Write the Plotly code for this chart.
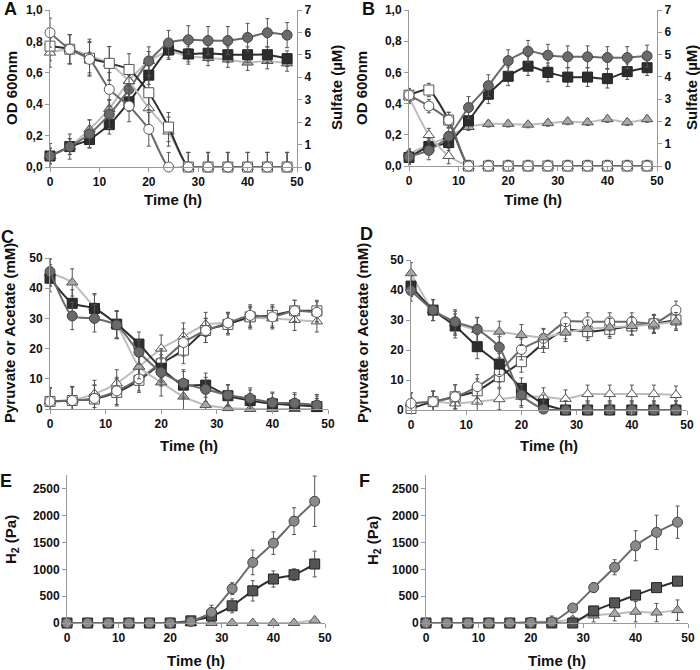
import plotly.graph_objects as go

t = [0, 4, 8, 12, 16, 20, 24, 28, 32, 36, 40, 44, 48]

# Panel A: OD600 (filled) and sulfate (open)
A_od_circle = [0.07, 0.13, 0.21, 0.335, 0.495, 0.675, 0.79, 0.81, 0.805, 0.805, 0.825, 0.855, 0.84]
A_od_square = [0.07, 0.13, 0.175, 0.27, 0.415, 0.585, 0.745, 0.72, 0.725, 0.715, 0.715, 0.715, 0.69]
A_od_triangle = [0.07, 0.13, 0.24, 0.37, 0.55, 0.675, 0.735, 0.705, 0.695, 0.685, 0.665, 0.675, 0.66]
A_od_circle_err = [0.08, 0.08, 0.09, 0.09, 0.09, 0.09, 0.08, 0.09, 0.09, 0.09, 0.09, 0.09, 0.08]
A_od_square_err = [0.05, 0.05, 0.05, 0.06, 0.06, 0.06, 0.05, 0.05, 0.05, 0.05, 0.05, 0.05, 0.05]
A_od_triangle_err = [0.05, 0.05, 0.06, 0.06, 0.06, 0.06, 0.05, 0.05, 0.05, 0.05, 0.05, 0.05, 0.05]
A_su_circle = [5.99, 5.25, 4.8, 3.46, 2.72, 1.68, 0.0, 0, 0, 0, 0, 0, 0]
A_su_square = [5.39, 5.25, 4.85, 4.62, 4.35, 3.31, 1.78, 0, 0, 0, 0, 0, 0]
A_su_triangle = [5.1, 5.25, 4.95, 4.62, 3.83, 2.62, 1.58, 0, 0, 0, 0, 0, 0]
A_su_err = [0.65, 0.65, 0.75, 0.75, 0.7, 0.75, 0.65, 0.65, 0.65, 0.65, 0.65, 0.65, 0.65]

# Panel B
B_od_circle = [0.06, 0.10, 0.19, 0.375, 0.515, 0.675, 0.735, 0.71, 0.70, 0.70, 0.695, 0.695, 0.705]
B_od_square = [0.055, 0.125, 0.15, 0.29, 0.46, 0.575, 0.64, 0.60, 0.57, 0.57, 0.56, 0.605, 0.63]
B_od_triangle = [0.08, 0.135, 0.19, 0.25, 0.27, 0.27, 0.265, 0.275, 0.285, 0.28, 0.30, 0.28, 0.30]
B_od_circle_err = [0.05, 0.06, 0.06, 0.07, 0.07, 0.07, 0.07, 0.07, 0.07, 0.07, 0.07, 0.07, 0.07]
B_od_square_err = [0.04, 0.05, 0.05, 0.06, 0.06, 0.06, 0.06, 0.06, 0.06, 0.06, 0.06, 0.05, 0.05]
B_od_triangle_err = [0.03, 0.03, 0.03, 0.02, 0.02, 0.02, 0.02, 0.02, 0.02, 0.02, 0.02, 0.02, 0.02]
B_su_circle = [3.18, 2.69, 2.06, 0, 0, 0, 0, 0, 0, 0, 0, 0, 0]
B_su_square = [3.18, 3.41, 2.06, 0, 0, 0, 0, 0, 0, 0, 0, 0, 0]
B_su_triangle = [3.1, 1.39, 0.45, 0, 0, 0, 0, 0, 0, 0, 0, 0, 0]
B_su_err = [0.3, 0.3, 0.35, 0.25, 0.25, 0.25, 0.25, 0.25, 0.25, 0.25, 0.25, 0.25, 0.25]

# Panel C: pyruvate (filled) and acetate (open), mM
C_pyr_circle = [45.5, 30.8, 30.0, 27.8, 18.8, 12.1, 8.5, 6.5, 4.6, 3.5, 2.1, 1.9, 1.3]
C_pyr_square = [43.3, 35.0, 33.3, 28.1, 21.5, 13.5, 7.9, 7.9, 4.4, 2.8, 1.7, 1.3, 0.8]
C_pyr_triangle = [45.1, 41.9, 33.7, 27.8, 14.0, 8.8, 4.1, 1.3, 0.3, 0, 0, 0, 0]
C_ace_circle = [2.5, 2.8, 3.5, 6.0, 10.0, 15.5, 22.0, 26.0, 28.5, 31.0, 30.5, 32.5, 32.0]
C_ace_square = [2.5, 2.8, 3.3, 5.5, 9.5, 15.0, 19.5, 26.0, 28.0, 30.5, 31.0, 32.5, 32.5]
C_ace_triangle = [2.5, 3.0, 5.0, 8.5, 14.0, 20.0, 24.0, 28.0, 28.5, 30.0, 30.0, 29.5, 29.0]
C_err = [4.5, 4.5, 4.5, 4.5, 4.0, 4.5, 4.5, 4.0, 3.5, 3.5, 3.5, 3.5, 3.5]

# Panel D
D_pyr_circle = [39.8, 33.3, 29.4, 26.9, 20.9, 5.0, 0.3, 0, 0, 0, 0, 0, 0]
D_pyr_square = [41.3, 33.3, 28.0, 21.1, 15.3, 7.2, 2.0, 0, 0, 0, 0, 0, 0]
D_pyr_triangle = [45.6, 33.3, 28.9, 26.7, 26.1, 25.0, 24.2, 25.8, 27.0, 27.5, 28.0, 28.5, 29.5]
D_ace_circle = [2.2, 2.8, 4.4, 7.8, 12.8, 20.2, 23.9, 29.4, 29.4, 29.4, 29.4, 28.9, 33.3]
D_ace_square = [0.5, 2.8, 4.4, 6.4, 11.1, 16.1, 22.2, 26.7, 26.1, 26.9, 28.0, 28.7, 30.0]
D_ace_triangle = [2.2, 2.8, 2.2, 2.8, 3.6, 4.4, 4.4, 3.7, 5.3, 5.3, 5.3, 5.3, 5.0]
D_err = [3.5, 3.5, 4.0, 4.0, 3.5, 3.5, 3.0, 3.0, 3.0, 3.0, 3.0, 3.0, 3.0]

# Panel E: H2 (Pa)
E_circle = [0, 0, 0, 0, 0, 0, 30, 200, 640, 1130, 1490, 1900, 2270]
E_square = [0, 0, 0, 0, 0, 0, 40, 130, 320, 600, 820, 900, 1100]
E_triangle = [0, 0, 0, 0, 0, 0, 0, 0, 0, 0, 0, 0, 50]
E_circle_err = [0, 0, 0, 0, 0, 0, 0, 130, 110, 230, 210, 250, 470]
E_square_err = [0, 0, 0, 0, 0, 0, 0, 60, 130, 190, 150, 110, 240]

# Panel F
F_circle = [0, 0, 0, 0, 0, 10, 20, 280, 660, 1040, 1440, 1690, 1880]
F_square = [0, 0, 0, 0, 0, 0, 0, 0, 225, 375, 520, 660, 780]
F_triangle = [0, 0, 0, 0, 0, 20, 30, 60, 140, 170, 210, 195, 240]
F_circle_err = [0, 0, 0, 0, 0, 0, 0, 0, 90, 140, 280, 320, 300]
F_triangle_err = [0, 0, 0, 0, 0, 20, 100, 60, 120, 130, 190, 170, 190]

FONT = "Liberation Sans, Arial, sans-serif"
C_CIRC = "#6a6a6a"
C_SQ = "#2e2e2e"
C_TRI = "#a8a8a8"
C_TRI_LINE = "#bdbdbd"
EB = "#555555"

fig = go.Figure()


def add(x, y, xa, ya, symbol, fill, line_col, outline, err=None, size=10):
    kw = {}
    if err is not None:
        kw["error_y"] = dict(type="data", array=err, visible=True, color=EB,
                             thickness=1, width=2)
    fig.add_trace(go.Scatter(
        x=x, y=y, xaxis=xa, yaxis=ya, mode="lines+markers",
        line=dict(color=line_col, width=2, shape="spline", smoothing=0.6),
        marker=dict(symbol=symbol, size=size, color=fill,
                    line=dict(color=outline, width=1)),
        cliponaxis=False, showlegend=False, **kw))


# Panel A
add(t, A_su_triangle, "x", "y2", "triangle-up", "white", C_TRI_LINE, "#555", A_su_err)
add(t, A_su_square, "x", "y2", "square", "white", C_SQ, "#555", A_su_err)
add(t, A_su_circle, "x", "y2", "circle", "white", C_CIRC, "#555", A_su_err)
add(t, A_od_triangle, "x", "y", "triangle-up", C_TRI, C_TRI_LINE, "#555", A_od_triangle_err)
add(t, A_od_square, "x", "y", "square", C_SQ, C_SQ, "#222", A_od_square_err)
add(t, A_od_circle, "x", "y", "circle", C_CIRC, C_CIRC, "#444", A_od_circle_err)

# Panel B
add(t, B_su_triangle, "x2", "y4", "triangle-up", "white", C_TRI_LINE, "#555", B_su_err)
add(t, B_su_square, "x2", "y4", "square", "white", C_SQ, "#555", B_su_err)
add(t, B_su_circle, "x2", "y4", "circle", "white", C_CIRC, "#555", B_su_err)
add(t, B_od_triangle, "x2", "y3", "triangle-up", C_TRI, C_TRI_LINE, "#555", B_od_triangle_err)
add(t, B_od_square, "x2", "y3", "square", C_SQ, C_SQ, "#222", B_od_square_err)
add(t, B_od_circle, "x2", "y3", "circle", C_CIRC, C_CIRC, "#444", B_od_circle_err)

# Panel C
add(t, C_ace_triangle, "x3", "y5", "triangle-up", "white", C_TRI_LINE, "#555", C_err)
add(t, C_ace_square, "x3", "y5", "square", "white", C_SQ, "#555", C_err)
add(t, C_ace_circle, "x3", "y5", "circle", "white", C_CIRC, "#555", C_err)
add(t, C_pyr_triangle, "x3", "y5", "triangle-up", C_TRI, C_TRI_LINE, "#555", C_err)
add(t, C_pyr_square, "x3", "y5", "square", C_SQ, C_SQ, "#222", C_err)
add(t, C_pyr_circle, "x3", "y5", "circle", C_CIRC, C_CIRC, "#444", C_err)

# Panel D
add(t, D_ace_triangle, "x4", "y6", "triangle-up", "white", C_TRI_LINE, "#555", D_err)
add(t, D_ace_square, "x4", "y6", "square", "white", C_SQ, "#555", D_err)
add(t, D_ace_circle, "x4", "y6", "circle", "white", C_CIRC, "#555", D_err)
add(t, D_pyr_triangle, "x4", "y6", "triangle-up", C_TRI, C_TRI_LINE, "#555", D_err)
add(t, D_pyr_square, "x4", "y6", "square", C_SQ, C_SQ, "#222", D_err)
add(t, D_pyr_circle, "x4", "y6", "circle", C_CIRC, C_CIRC, "#444", D_err)

# Panel E
add(t, E_triangle, "x5", "y7", "triangle-up", C_TRI, C_TRI_LINE, "#555")
add(t, E_square, "x5", "y7", "square", "#555555", C_SQ, "#222", E_square_err)
add(t, E_circle, "x5", "y7", "circle", "#8a8a8a", C_CIRC, "#444", E_circle_err)

# Panel F
add(t, F_triangle, "x6", "y8", "triangle-up", C_TRI, C_TRI_LINE, "#555", F_triangle_err)
add(t, F_square, "x6", "y8", "square", "#555555", C_SQ, "#222")
add(t, F_circle, "x6", "y8", "circle", "#8a8a8a", C_CIRC, "#444", F_circle_err)

W, H = 700, 670


def dx(a, b):
    return [a / W, b / W]


def dy(top, bottom):
    return [1 - bottom / H, 1 - top / H]


tickfont = dict(family=FONT, size=12, color="#111", weight="bold")

x_ticks = [0, 10, 20, 30, 40, 50]
od_ticks = [0, 0.2, 0.4, 0.6, 0.8, 1.0]
od_text = ["0,0", "0,2", "0,4", "0,6", "0,8", "1,0"]
su_ticks = [0, 1, 2, 3, 4, 5, 6, 7]
mm_ticks = [0, 10, 20, 30, 40, 50]
h2_ticks = [0, 500, 1000, 1500, 2000, 2500]

axline = dict(showline=True, linecolor="#9a9a9a", linewidth=1, ticks="outside",
              ticklen=4, tickcolor="#9a9a9a", showgrid=False, zeroline=False,
              tickfont=tickfont, automargin=False)


def xax(domain, anchor):
    return dict(domain=domain, anchor=anchor, range=[0, 50], tickvals=x_ticks, **axline)


layout = dict(
    width=W, height=H, margin=dict(l=0, r=0, t=0, b=0, autoexpand=False),
    paper_bgcolor="white", plot_bgcolor="white",
    xaxis=xax(dx(50, 297), "y"),
    yaxis=dict(domain=dy(10, 167), anchor="x", range=[0, 1.0], tickvals=od_ticks,
               ticktext=od_text, **axline),
    yaxis2=dict(domain=dy(10, 167), anchor="x", overlaying="y", side="right",
                range=[0, 7], tickvals=su_ticks, **axline),
    xaxis2=xax(dx(409, 657), "y3"),
    yaxis3=dict(domain=dy(10, 166), anchor="x2", range=[0, 1.0], tickvals=od_ticks,
                ticktext=od_text, **axline),
    yaxis4=dict(domain=dy(10, 166), anchor="x2", overlaying="y3", side="right",
                range=[0, 7], tickvals=su_ticks, **axline),
    xaxis3=xax(dx(50, 328), "y5"),
    yaxis5=dict(domain=dy(258, 409), anchor="x3", range=[0, 50], tickvals=mm_ticks, **axline),
    xaxis4=xax(dx(411, 687), "y6"),
    yaxis6=dict(domain=dy(260, 410), anchor="x4", range=[0, 50], tickvals=mm_ticks, **axline),
    xaxis5=xax(dx(67, 325), "y7"),
    yaxis7=dict(domain=dy(475, 623), anchor="x5", range=[0, 2760], tickvals=h2_ticks, **axline),
    xaxis6=xax(dx(426, 688), "y8"),
    yaxis8=dict(domain=dy(475, 623), anchor="x6", range=[0, 2760], tickvals=h2_ticks, **axline),
)
fig.update_layout(**layout)


def label(text, px, py, angle=0, size=15):
    fig.add_annotation(text=text, x=px / W, y=1 - py / H, xref="paper", yref="paper",
                       xanchor="center", yanchor="middle", showarrow=False,
                       textangle=angle,
                       font=dict(family=FONT, size=size, color="#111", weight="bold"))


# Axis titles (placed in pixel coordinates of the figure)
axis_titles = [
    ("OD 600nm", 11, 88, -90), ("Sulfate (µM)", 336, 88, -90), ("Time (h)", 173, 200, 0),
    ("OD 600nm", 361, 88, -90), ("Sulfate (µM)", 691, 88, -90), ("Time (h)", 533, 200, 0),
    ("Pyruvate or Acetate (mM)", 9, 333, -90), ("Time (h)", 189, 445, 0),
    ("Pyruvate or Acetate (mM)", 362, 333, -90), ("Time (h)", 549, 445, 0),
    ("H<sub>2</sub> (Pa)", 11, 540, -90), ("Time (h)", 196, 660, 0),
    ("H<sub>2</sub> (Pa)", 373, 540, -90), ("Time (h)", 557, 660, 0),
]
for txt, px, py, ang in axis_titles:
    label(txt, px, py, ang)

letters = [("A", 10, 9), ("B", 368, 9), ("C", 7, 237), ("D", 366, 234), ("E", 6, 481), ("F", 364, 481)]
for txt, px, py in letters:
    label(txt, px, py, 0, 18)

# remove the default 8px page margin so the figure sits at the window's top-left corner
fig.write_html("out.html", config={"displayModeBar": False},
               post_script="document.body.style.margin='0px';")
